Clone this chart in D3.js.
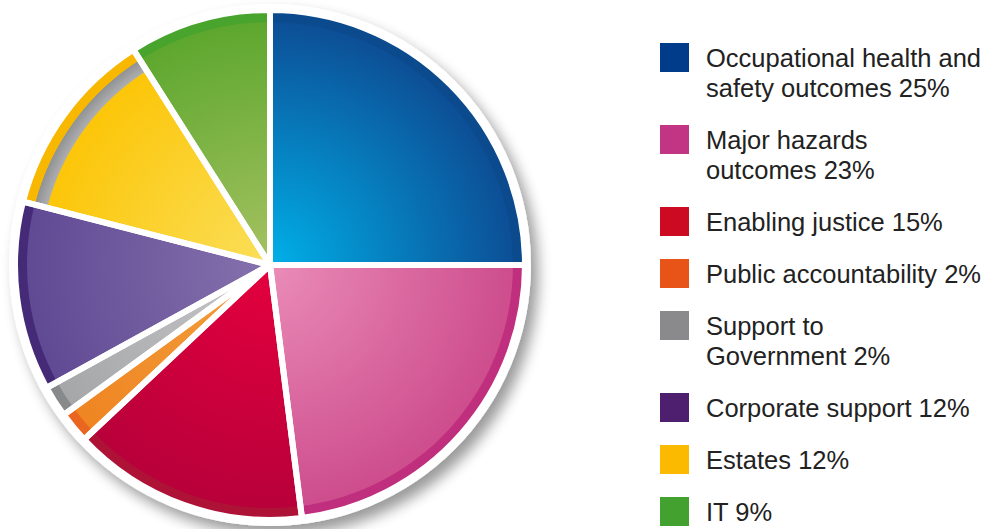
<!DOCTYPE html>
<meta charset="utf-8">
<script src="https://d3js.org/d3.v7.min.js"></script>
<style>
  body { margin: 0; background: #fff; }
  text { font-family: "Liberation Sans", Arial, sans-serif; }
</style>
<div id="chart"></div>
<script>
// data
var categories = ["Occupational health and safety outcomes", "Major hazards outcomes",
  "Enabling justice", "Public accountability", "Support to Government",
  "Corporate support", "Estates", "IT"];
var values = [25, 23, 15, 2, 2, 12, 12, 9];
var legendLabels = [
  ["Occupational health and", "safety outcomes 25%"],
  ["Major hazards", "outcomes 23%"],
  ["Enabling justice 15%"],
  ["Public accountability 2%"],
  ["Support to", "Government 2%"],
  ["Corporate support 12%"],
  ["Estates 12%"],
  ["IT 9%"]
];

// colours: inner, outer, rim, legend key
var innerCol  = ["#00b0e8", "#ea8cb8", "#e4003e", "#f4a040", "#c8c8ca", "#8672ad", "#fadf5a", "#a6c262"];
var outerCol  = ["#0d4a92", "#cc4a8b", "#b6003a", "#ee8420", "#a4a5a7", "#5f4893", "#fcc300", "#5aa62c"];
var rimCol    = ["#0b4a8c", "#bf2f7e", "#ae1236", "#ea6620", "#88898b", "#452a78", "#f8b800", "#48a42c"];
var legendCol = ["#003c8a", "#c13584", "#cc0a22", "#e85318", "#8a8a8c", "#4e1f6e", "#fbba00", "#42a12f"];

var width = 1000, height = 529;
var cx = 270, cy = 265, R = 255, rim = 12;

var svg = d3.select("#chart").append("svg")
    .attr("width", width)
    .attr("height", height);

var defs = svg.append("defs");

var shadow = defs.append("filter").attr("id", "shadow")
    .attr("x", "-20%").attr("y", "-20%").attr("width", "140%").attr("height", "140%");
shadow.append("feGaussianBlur").attr("in", "SourceAlpha").attr("stdDeviation", 7);
shadow.append("feOffset").attr("dx", 7).attr("dy", 9).attr("result", "blur");
shadow.append("feComponentTransfer").append("feFuncA").attr("type", "linear").attr("slope", 0.4);
var merge = shadow.append("feMerge");
merge.append("feMergeNode");
merge.append("feMergeNode").attr("in", "SourceGraphic");

values.forEach(function(v, i) {
  var g = defs.append("radialGradient").attr("id", "grad" + i)
      .attr("gradientUnits", "userSpaceOnUse")
      .attr("cx", 0).attr("cy", 0).attr("r", R);
  g.append("stop").attr("offset", "0%").attr("stop-color", innerCol[i]);
  g.append("stop").attr("offset", "100%").attr("stop-color", outerCol[i]);
});
var gg = defs.append("radialGradient").attr("id", "greyband")
    .attr("gradientUnits", "userSpaceOnUse")
    .attr("cx", 0).attr("cy", 0).attr("r", R - rim + 1);
gg.append("stop").attr("offset", "0.9").attr("stop-color", "#c6c6c8");
gg.append("stop").attr("offset", "1").attr("stop-color", "#8e8f91");

var pieG = svg.append("g").attr("transform", "translate(" + cx + "," + cy + ")");

// white disc with soft shadow
pieG.append("circle").attr("r", R + 6).attr("fill", "#fff").attr("filter", "url(#shadow)");

var pie = d3.pie().sort(null).value(function(d) { return d; });
var arcs = pie(values);

var arcFull = d3.arc().innerRadius(0).outerRadius(R);
var arcRim = d3.arc().innerRadius(R - rim).outerRadius(R);
var arcBand = d3.arc().innerRadius(R - rim - 13).outerRadius(R - rim);

pieG.selectAll("path.slice")
  .data(arcs)
  .enter()
  .append("path")
    .attr("class", "slice")
    .attr("d", arcFull)
    .attr("fill", function(d, i) { return "url(#grad" + i + ")"; });

// grey band inside the estates rim
pieG.append("path")
    .attr("d", arcBand(arcs[6]))
    .attr("fill", "url(#greyband)");

pieG.selectAll("path.rim")
  .data(arcs)
  .enter()
  .append("path")
    .attr("class", "rim")
    .attr("d", arcRim)
    .attr("fill", function(d, i) { return rimCol[i]; });

// white separators
pieG.selectAll("path.sep")
  .data(arcs)
  .enter()
  .append("path")
    .attr("class", "sep")
    .attr("d", arcFull)
    .attr("fill", "none")
    .attr("stroke", "#fff")
    .attr("stroke-width", 6)
    .attr("stroke-linejoin", "round");

// legend
var legend = svg.append("g");
var y = 43;
legendLabels.forEach(function(lines, i) {
  var item = legend.append("g").attr("transform", "translate(660," + y + ")");
  item.append("rect").attr("width", 29).attr("height", 29).attr("fill", legendCol[i]);
  var t = item.append("text").attr("x", 46).attr("y", 24)
      .attr("font-size", 25.5).attr("fill", "#222");
  lines.forEach(function(l, j) {
    t.append("tspan").attr("x", 46).attr("dy", j === 0 ? 0 : 30).text(l);
  });
  y += 52 + 30 * (lines.length - 1);
});
</script>
